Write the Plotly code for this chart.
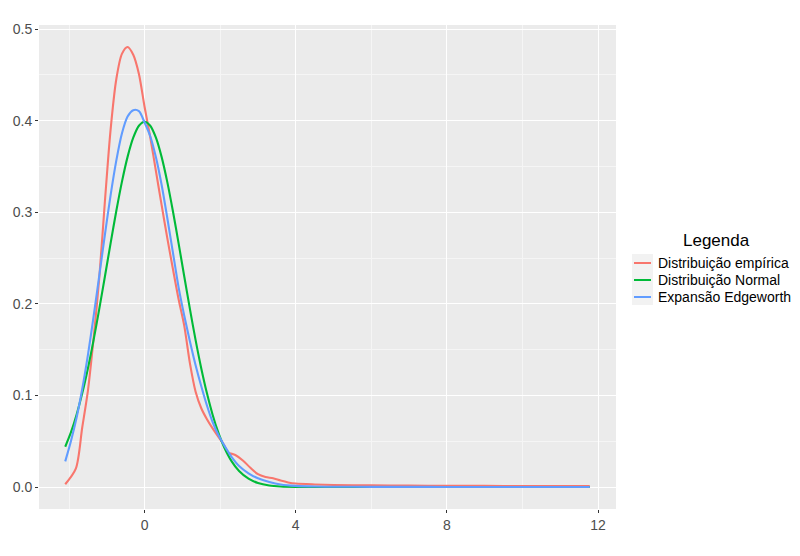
import plotly.graph_objects as go

# ---- data ----
series_names = ["Distribuição empírica", "Distribuição Normal", "Expansão Edgeworth"]
series_colors = ["#F8766D", "#00BA38", "#619CFF"]
legend_title = "Legenda"

x_emp = [-2.1, -1.82, -1.65, -1.5, -1.35, -1.2, -1.05, -0.9, -0.75, -0.6, -0.45, -0.3, -0.15,
         0.0, 0.15, 0.3, 0.45, 0.6, 0.75, 0.9, 1.05, 1.2, 1.35, 1.5, 1.65,
         1.8, 1.95, 2.1, 2.2, 2.4, 2.6, 2.8, 3.0, 3.2, 3.4, 3.6, 3.8, 4.0, 4.5, 5.0, 6.0, 7.0,
         8.0, 9.0, 10.0, 11.0, 11.78]
y_emp = [0.003, 0.020, 0.065, 0.105, 0.162, 0.228, 0.312, 0.390, 0.445, 0.473, 0.4805, 0.472,
         0.451, 0.415, 0.382, 0.345, 0.308, 0.272, 0.238, 0.205,
         0.176, 0.135, 0.104, 0.086, 0.074, 0.064, 0.055, 0.046, 0.038, 0.035, 0.029, 0.021,
         0.014, 0.011, 0.0095, 0.007, 0.005, 0.0038, 0.0028, 0.0022, 0.0018, 0.0015, 0.0013,
         0.0012, 0.0011, 0.0010, 0.0010]

x_grid = [-2.1, -1.95, -1.8, -1.65, -1.5, -1.35, -1.2, -1.05, -0.9, -0.75, -0.6, -0.45, -0.3,
          -0.15, 0.0, 0.15, 0.3, 0.45, 0.6, 0.75, 0.9, 1.05, 1.2, 1.35, 1.5, 1.65, 1.8, 1.95,
          2.1, 2.3, 2.5, 2.75, 3.0, 3.3, 3.6, 4.0, 4.5, 5.0, 6.0, 7.0, 8.0, 9.0, 10.0, 11.0, 11.78]
y_normal = [0.0440, 0.0596, 0.0790, 0.1023, 0.1295, 0.1604, 0.1942, 0.2299, 0.2661, 0.3011,
            0.3332, 0.3605, 0.3814, 0.3945, 0.3989, 0.3945, 0.3814, 0.3605, 0.3332, 0.3011,
            0.2661, 0.2299, 0.1942, 0.1604, 0.1295, 0.1023, 0.0790, 0.0596, 0.0440, 0.0283,
            0.0175, 0.0091, 0.0044, 0.0017, 0.0006, 0.0001, 0.0, 0.0, 0.0, 0.0, 0.0, 0.0, 0.0,
            0.0, 0.0]
y_edge = [0.028, 0.050, 0.0756, 0.107, 0.144, 0.186, 0.2306, 0.2757, 0.3185, 0.3561, 0.386,
          0.4045, 0.4115, 0.4105, 0.398, 0.383, 0.360, 0.330, 0.294, 0.256, 0.218, 0.187, 0.159,
          0.133, 0.110, 0.089, 0.071, 0.057, 0.046, 0.033, 0.023, 0.015, 0.0095, 0.0055, 0.0028,
          0.0012, 0.0005, 0.0003, 0.0002, 0.0002, 0.0001, 0.0001, 0.0001, 0.0001, 0.0001]

x_ticks = [0, 4, 8, 12]
y_ticks = [0.0, 0.1, 0.2, 0.3, 0.4, 0.5]
y_ticklabels = ["0.0", "0.1", "0.2", "0.3", "0.4", "0.5"]

FONT = "Liberation Sans, Arial, sans-serif"

# The page body has an 8px margin, so the figure is drawn 8px right/down.
OFF = 8
W, H = 800 - OFF, 556 - OFF
# plot area in page pixels: x 39..616, y 25..509
L, T = 39 - OFF, 25 - OFF
R, B = 800 - 616, 556 - 509
PW, PH = W - L - R, H - T - B


def px_x(p):  # page pixel -> paper x
    return (p - OFF - L) / PW


def px_y(p):  # page pixel -> paper y
    return (H - B - (p - OFF)) / PH


fig = go.Figure()
for xs, ys, name, col in [(x_emp, y_emp, series_names[0], series_colors[0]),
                          (x_grid, y_normal, series_names[1], series_colors[1]),
                          (x_grid, y_edge, series_names[2], series_colors[2])]:
    fig.add_trace(go.Scatter(x=xs, y=ys, mode="lines", name=name, showlegend=False,
                             line=dict(color=col, width=2.1, shape="spline", smoothing=0.8)))

axis_common = dict(
    showgrid=True, gridcolor="white", gridwidth=1.1, zeroline=False,
    ticks="outside", ticklen=3, tickwidth=1.1, tickcolor="#333333",
    tickfont=dict(family=FONT, size=14, color="#4D4D4D"),
    showline=False, layer="below traces", automargin=False,
)

shapes = []
annotations = []
# legend key background
shapes.append(dict(type="rect", xref="paper", yref="paper",
                   x0=px_x(632), x1=px_x(653), y0=px_y(305), y1=px_y(254),
                   fillcolor="#F2F2F2", line=dict(width=0), layer="below"))
key_y = [263, 280, 297]
for i, (name, col) in enumerate(zip(series_names, series_colors)):
    shapes.append(dict(type="line", xref="paper", yref="paper",
                       x0=px_x(634), x1=px_x(651), y0=px_y(key_y[i]), y1=px_y(key_y[i]),
                       line=dict(color=col, width=2)))
    annotations.append(dict(text=name, xref="paper", yref="paper", x=px_x(656),
                            y=px_y(key_y[i]), xanchor="left", yanchor="middle",
                            showarrow=False,
                            font=dict(family=FONT, size=14, color="black")))
annotations.append(dict(text=legend_title, xref="paper", yref="paper", x=px_x(716),
                        y=px_y(240), xanchor="center", yanchor="middle", showarrow=False,
                        font=dict(family=FONT, size=17, color="black")))

fig.update_layout(
    width=W, height=H,
    margin=dict(l=L, r=R, t=T, b=B, autoexpand=False),
    paper_bgcolor="white", plot_bgcolor="#EBEBEB",
    font=dict(family=FONT),
    xaxis=dict(range=[-2.794, 12.474], tickvals=x_ticks, ticktext=[str(v) for v in x_ticks],
               minor=dict(tickvals=[-2, 2, 6, 10], showgrid=True, gridcolor="#F5F5F5",
                          gridwidth=0.6, ticks=""),
               **axis_common),
    yaxis=dict(range=[-0.024, 0.5045], tickvals=y_ticks, ticktext=y_ticklabels,
               minor=dict(tickvals=[0.05, 0.15, 0.25, 0.35, 0.45], showgrid=True,
                          gridcolor="#F5F5F5", gridwidth=0.6, ticks=""),
               **axis_common),
    shapes=shapes,
    annotations=annotations,
    showlegend=False,
)

fig.write_html("out.html")
